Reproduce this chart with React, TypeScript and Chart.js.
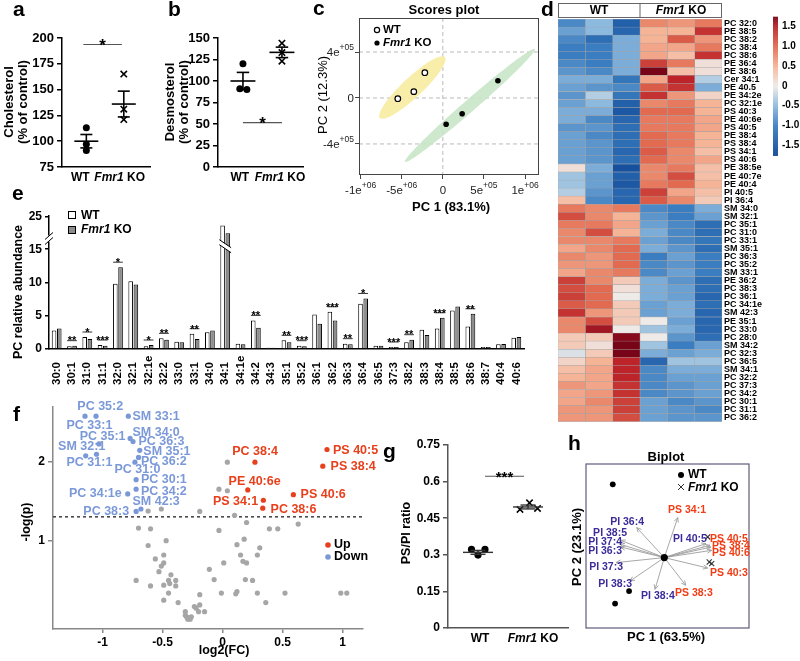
import React, { useEffect, useRef } from 'react';
import { Chart, registerables } from 'chart.js';
Chart.register(...registerables);

const W = 800;
const H = 661;
const FF = "'Liberation Sans', Arial, Helvetica, sans-serif";
Chart.defaults.font.family = FF;
const font = (size: number, bold = true, italic = false) => `${italic ? 'italic ' : ''}${bold ? 'bold ' : ''}${size}px ${FF}`;
const tf = (size: number, bold = true) => ({ family: FF, size, weight: bold ? 'bold' : 'normal' });

// ===================== DATA =====================
// panel a
const groups = ['WT', 'Fmr1 KO'];
const aTicks = [75, 100, 125, 150, 175, 200];
const aWT = [113, 97, 91];
const aKO = [165, 131, 121];
const aMean = [100, 136];
const aSem = [6.5, 12.5];
// panel b
const bTicks = [0, 25, 50, 75, 100, 125, 150];
const bWT = [120, 91, 90];
const bWTJit = [0, -0.08, 0.1];
const bKO = [144, 133, 123];
const bMean = [100, 133.3];
const bSem = [10, 6.1];
// panel c
const cXTicks = [-1e6, -5e5, 0, 5e5, 1e6];
const cXTickLabels = [['-1e', '+06'], ['-5e', '+06'], ['0', ''], ['5e', '+05'], ['1e', '+06']];
const cYTicks = [-4e5, 0, 4e5];
const cYTickLabels = [['-4e', '+05'], ['0', ''], ['4e', '+05']];
const cWTx = [-5.48e5, -3.53e5, -2.19e5];
const cWTy = [-6e3, 5.5e4, 2.2e5];
const cKOx = [4e4, 2.35e5, 6.7e5];
const cKOy = [-2.29e5, -1.37e5, 1.5e5];
const cEllCenter = [[-3.71e5, 9.1e4], [3.29e5, -6.5e4]];
const cEllMajor = [[3.95e5, 2.65e5], [7.9e5, 4.91e5]];
const cEllMinor = [[8.3e4, -6.3e4], [4.8e4, -3.95e4]];
const cEllColor = ['rgba(247,236,160,0.9)', 'rgba(200,230,200,0.9)'];
// panel d
const heatCols = ['WT', 'WT', 'WT', 'Fmr1 KO', 'Fmr1 KO', 'Fmr1 KO'];
const heatRows = ['PC 32:0', 'PE 38:5', 'PC 38:2', 'PC 38:4', 'PC 38:6', 'PE 36:4', 'PE 38:6', 'Cer 34:1', 'PE 40.5', 'PE 34:2e', 'PC 32:1e', 'PS 40:3', 'PE 40:6e', 'PS 40:5', 'PE 38:4', 'PS 38:4', 'PS 34:1', 'PS 40:6', 'PE 38:5e', 'PE 40:7e', 'PE 40:4', 'PI 40:5', 'PI 36:4', 'SM 34:0', 'SM 32:1', 'PC 35:1', 'PC 31:0', 'PC 33:1', 'SM 35:1', 'PC 36:3', 'PC 35:2', 'SM 33:1', 'PE 36:2', 'PC 38:3', 'PC 36:1', 'PC 34:1e', 'SM 42:3', 'PE 35:1', 'PC 33:0', 'PC 28:0', 'SM 34:2', 'PC 32:3', 'PC 36:5', 'SM 34:1', 'PC 32:2', 'PC 37:3', 'PC 34:2', 'PC 30:1', 'PC 31:1', 'PC 36:2'];
const heatVals = [
  [-0.9, -0.5, -1.4, 0.8, 0.7, 0.9],
  [-0.7, -0.5, -1.3, 0.5, 0.5, 1.4],
  [-0.9, -1.2, -0.6, 0.5, 1.1, 0.7],
  [-1.0, -1.0, -0.6, 0.6, 0.6, 0.9],
  [-1.0, -1.0, -0.6, 0.6, 0.4, 1.4],
  [-0.9, -1.0, -0.6, 1.3, 0.9, 0.1],
  [-0.8, -0.9, -0.6, 1.8, 0.4, 0.1],
  [-0.6, -0.6, -1.1, 0.6, 1.5, -0.3],
  [-0.7, -0.8, -0.9, 1.1, 1.4, -0.6],
  [-0.8, -0.3, -1.1, 1.4, 0.7, 0.2],
  [-0.7, -0.5, -1.4, 0.8, 0.9, 0.5],
  [-0.6, -0.6, -1.5, 1.0, 1.0, 0.5],
  [-0.6, -0.9, -1.3, 0.9, 0.9, 0.6],
  [-0.8, -0.8, -1.2, 0.9, 0.9, 0.6],
  [-0.7, -0.9, -1.2, 1.0, 0.9, 0.5],
  [-0.7, -0.8, -1.2, 1.0, 0.9, 0.5],
  [-0.7, -0.8, -1.3, 1.1, 0.8, 0.4],
  [-0.7, -0.8, -1.2, 1.0, 0.8, 0.6],
  [0.1, -0.6, -1.6, 0.8, 0.9, 0.4],
  [-0.4, -0.7, -1.4, 0.8, 1.2, 0.4],
  [-0.4, -0.7, -1.5, 0.9, 1.0, 0.5],
  [-0.3, -0.8, -1.3, 1.3, 0.6, 0.4],
  [0.4, -0.9, -1.3, 1.1, 0.8, 0.3],
  [0.9, 0.8, 0.9, -0.9, -1.0, -0.6],
  [1.2, 0.8, 0.5, -0.8, -1.0, -0.7],
  [0.9, 0.9, 0.6, -0.7, -0.9, -1.2],
  [0.8, 1.2, 0.5, -0.6, -0.9, -1.2],
  [0.8, 0.8, 0.9, -0.7, -0.9, -1.1],
  [0.6, 0.8, 1.0, -0.6, -0.8, -1.2],
  [0.8, 0.7, 1.0, -1.0, -0.7, -1.0],
  [0.7, 0.7, 1.0, -0.9, -0.8, -1.0],
  [0.6, 0.8, 0.9, -0.9, -0.7, -1.0],
  [1.3, 0.8, 0.3, -0.6, -0.8, -1.2],
  [1.2, 1.0, 0.1, -0.6, -0.7, -1.2],
  [1.3, 1.0, 0.0, -0.6, -0.7, -1.3],
  [1.1, 1.0, 0.3, -0.7, -0.6, -1.2],
  [1.4, 0.7, 0.3, -0.7, -0.6, -1.3],
  [0.8, 1.2, 0.3, 0.0, -0.7, -1.3],
  [0.8, 1.6, 0.0, -0.4, -0.6, -1.3],
  [0.3, 0.3, 1.7, 0.0, -0.8, -1.2],
  [0.3, 0.1, 1.8, -0.4, -1.0, -0.7],
  [-0.1, 0.3, 1.9, -0.6, -0.7, -0.6],
  [0.2, 0.5, 1.5, -1.3, -0.4, -0.4],
  [0.4, 0.6, 1.5, -0.9, -0.6, -0.6],
  [0.5, 0.6, 1.5, -0.9, -0.7, -0.7],
  [0.7, 0.6, 1.4, -0.9, -0.8, -0.7],
  [0.6, 0.7, 1.4, -0.9, -0.8, -0.7],
  [0.6, 0.8, 1.3, -0.7, -0.9, -0.8],
  [0.7, 0.7, 1.3, -0.7, -0.8, -0.9],
  [0.7, 0.7, 1.2, -0.7, -0.8, -0.8],
];
const heatLegendTicks = [1.5, 1.0, 0.5, 0, -0.5, -1.0, -1.5];
const heatRange = [-1.75, 1.75];
const heatStops = [-1.75, -1.0, -0.5, 0, 0.5, 1.0, 1.5, 1.75];
const heatStopColors = [[14, 70, 150], [58, 125, 192], [140, 185, 222], [238, 234, 232], [246, 180, 150], [226, 106, 80], [188, 36, 42], [120, 4, 24]];
// panel e
const eCats = ['30:0', '30:1', '31:0', '31:1', '32:0', '32:1', '32:1e', '32:2', '33:0', '33:1', '34:0', '34:1', '34:1e', '34:2', '34:3', '35:1', '35:2', '36:1', '36:2', '36:3', '36:4', '36:5', '37:3', '38:2', '38:3', '38:4', '38:5', '38:6', '38:7', '40:4', '40:6'];
const eWT = [2.8, 0.4, 1.8, 0.6, 9.8, 10.2, 0.4, 1.6, 1.1, 2.3, 2.5, 22.3, 0.8, 4.3, 0.2, 1.3, 0.5, 5.2, 5.6, 0.8, 6.8, 0.5, 0.3, 1.0, 2.9, 3.1, 5.8, 3.4, 0.3, 0.7, 1.7];
const eKO = [3.1, 0.5, 1.5, 0.5, 12.3, 9.7, 0.6, 1.4, 1.0, 1.5, 2.8, 19.9, 0.7, 3.2, 0.2, 1.0, 0.4, 3.8, 4.3, 0.7, 7.6, 0.5, 0.3, 1.4, 2.1, 4.7, 6.4, 5.3, 0.3, 0.75, 1.8];
const eSig = ['', '**', '*', '***', '*', '', '*', '**', '', '**', '', '', '', '**', '', '**', '***', '', '***', '**', '*', '', '***', '**', '', '***', '', '**', '', '', ''];
const eYTicks = [0, 5, 10, 15, 25];
const eBreakFrom = 15;
const eCompress = 0.49;
const eYMax = 25.2;
const eAxisBreak = 18.3;
const eBarBreak = 16.4;
const eBrokenCat = '34:1';
// panel f
const fXTicks = [-1, -0.5, 0, 0.5, 1];
const fYTicks = [1, 2];
const fThreshold = 1.301;
const fGreyX = [0.04, -0.03, 0.04, -0.62, -0.51, -0.19, 0.10, -0.70, -0.60, -0.03, 0.20, 0.39, 0.46, 0.63, -0.47, -0.62, 0.18, 0.12, 0.31, -0.49, -0.56, 0.15, 0.29, -0.49, -0.51, 0.17, 0.20, 0.01, -0.11, -0.53, -0.43, -0.72, -0.45, -0.39, -0.07, 0.19, 0.25, -0.60, -0.49, -0.44, -0.39, -0.45, -0.19, -0.01, 0.12, 0.11, 0.29, 0.52, 0.985, 1.035, -0.49, -0.37, 0.36, -0.235, -0.19, -0.20, -0.15, -0.31, -0.30, -0.29, -0.27, -0.31, -0.28, -0.26, -0.22];
const fGreyY = [1.99, 1.65, 1.63, 1.375, 1.40, 1.37, 1.32, 1.16, 1.15, 1.13, 1.23, 1.15, 1.15, 1.21, 1.0, 0.94, 1.02, 0.95, 0.91, 0.82, 0.77, 0.82, 0.82, 0.72, 0.68, 0.74, 0.72, 0.72, 0.64, 0.61, 0.57, 0.50, 0.50, 0.50, 0.51, 0.51, 0.50, 0.43, 0.44, 0.46, 0.43, 0.34, 0.32, 0.34, 0.36, 0.33, 0.34, 0.34, 0.34, 0.34, 0.25, 0.22, 0.22, 0.17, 0.19, 0.105, 0.105, 0.105, 0.04, 0.01, 0.01, 0.06, 0.03, 0.04, 0.15];
const fUpNames = ['PS 40:5', 'PS 38:4', 'PC 38:4', 'PE 40:6e', 'PS 40:6', 'PS 34:1', 'PC 38:6'];
const fUpX = [0.87, 0.835, 0.27, 0.21, 0.59, 0.34, 0.335];
const fUpY = [2.15, 1.94, 1.99, 1.64, 1.58, 1.51, 1.41];
const fUpLabX = [0.92, 0.90, 0.08, 0.05, 0.65, -0.08, 0.40];
const fUpLabY = [2.14, 1.93, 2.12, 1.74, 1.58, 1.50, 1.39];
const fDownNames = ['PC 35:2', 'PC 33:1', 'SM 33:1', 'SM 34:0', 'PC 36:3', 'PC 35:1', 'SM 32:1', 'PC 31:1', 'SM 35:1', 'PC 36:2', 'PC 31:0', 'PC 30:1', 'PC 34:2', 'PC 34:1e', 'SM 42:3', 'PC 38:3'];
const fDownX = [-1.146, -1.054, -0.785, -0.77, -0.746, -1.03, -1.14, -1.05, -0.69, -0.70, -0.73, -0.72, -0.72, -0.79, -0.68, -0.72];
const fDownY = [2.57, 2.57, 2.57, 2.29, 2.25, 2.22, 2.07, 2.09, 2.14, 2.05, 1.99, 1.77, 1.65, 1.59, 1.40, 1.37];
const fDownLabX = [-1.21, -1.30, -0.75, -0.75, -0.70, -1.19, -1.37, -1.30, -0.66, -0.68, -0.90, -0.68, -0.68, -1.28, -0.75, -1.16];
const fDownLabY = [2.69, 2.45, 2.57, 2.37, 2.25, 2.31, 2.19, 1.98, 2.12, 2.0, 1.90, 1.77, 1.62, 1.60, 1.49, 1.37];
// panel g
const gTicks = [0, 0.15, 0.3, 0.45, 0.6, 0.75];
const gWT = [0.322, 0.322, 0.299];
const gWTJit = [-0.13, 0.14, 0];
const gKO = [0.486, 0.513, 0.49];
const gKOJit = [-0.16, 0.03, 0.19];
const gMean = [0.31, 0.496];
const gSem = [0.008, 0.008];
// panel h
const hWTx = [-0.645, -0.441, -0.616];
const hWTy = [0.916, -0.418, -0.575];
const hKOx = [0.543, 0.5625, 0.593];
const hKOy = [0.258, -0.055, -0.075];
const hVarNames = ['PS 34:1', 'PI 36:4', 'PI 38:5', 'PI 37:4', 'PI 36:3', 'PI 37:3', 'PI 38:3', 'PI 38:4', 'PS 38:3', 'PS 40:3', 'PI 40:5', 'PS 40:5', 'PS 38:4', 'PS 40:6'];
const hLoadX = [0.168, -0.345, -0.545, -0.554, -0.545, -0.604, -0.429, -0.116, 0.2675, 0.5425, 0.521, 0.571, 0.584, 0.5925];
const hLoadY = [0.5, 0.375, 0.216, 0.166, 0.1325, -0.0625, -0.2925, -0.396, -0.346, -0.13, 0.175, 0.154, 0.1325, 0.091];
const hLabX = [0.284, -0.466, -0.679, -0.741, -0.741, -0.729, -0.616, -0.079, 0.371, 0.809, 0.321, 0.809, 0.834, 0.834];
const hLabY = [0.591, 0.445, 0.3075, 0.195, 0.0825, -0.1175, -0.334, -0.48, -0.45, -0.1925, 0.2325, 0.229, 0.141, 0.05];

// ===================== HELPERS =====================
const fitW = (w: number) => (s: any) => { s.width = w; s.paddingLeft = 0; s.paddingRight = 0; s.paddingTop = 0; s.paddingBottom = 0; };
const fitH = (h: number) => (s: any) => { s.height = h; s.paddingLeft = 0; s.paddingRight = 0; s.paddingTop = 0; s.paddingBottom = 0; };

function base(area: any, yw: number, xh: number, yRight = false) {
  return {
    responsive: false,
    animation: false,
    events: [],
    layout: {
      autoPadding: false,
      padding: {
        left: yRight ? area.l : area.l - yw,
        right: yRight ? W - area.r - yw : W - area.r,
        top: area.t,
        bottom: H - area.b - xh,
      },
    },
    plugins: { legend: { display: false }, tooltip: { enabled: false } },
  };
}

const yAxis = (min: number, max: number, ticks: number[], yw: number, size = 13, color = '#000', fmt?: any) => ({
  type: 'linear', min, max,
  afterBuildTicks: (s: any) => { s.ticks = ticks.map((v) => ({ value: v })); },
  ticks: { font: tf(size), color: '#000', padding: 3, callback: fmt || ((v: any) => String(v)) },
  grid: { drawOnChartArea: false, drawTicks: true, tickLength: 5, color, lineWidth: 1.5 },
  border: { color, width: 1.5 },
  afterFit: fitW(yw),
});
const xHidden = (min: number, max: number, color = '#000', lw = 1.5) => ({
  type: 'linear', min, max,
  ticks: { display: false }, grid: { display: false },
  border: { color, width: lw },
  afterFit: fitH(0),
});

function text(ctx: any, s: string, x: number, y: number, fnt: string, o: any = {}) {
  ctx.save();
  ctx.translate(x, y);
  if (o.rot) ctx.rotate(o.rot);
  ctx.font = fnt;
  ctx.fillStyle = o.color || '#000';
  ctx.textAlign = o.align || 'center';
  ctx.textBaseline = o.base || 'middle';
  ctx.fillText(s, 0, 0);
  ctx.restore();
}
const KO_SEGS = [{ t: 'Fmr1', i: true }, { t: ' KO' }];
const segsFor = (g: string) => (g === 'WT' ? [{ t: 'WT' }] : KO_SEGS);
function rich(ctx: any, segs: any[], x: number, y: number, size: number, o: any = {}) {
  ctx.save();
  ctx.translate(x, y);
  if (o.rot) ctx.rotate(o.rot);
  const bold = o.bold !== false;
  const ws = segs.map((sg) => { ctx.font = font(size, bold, !!sg.i); return ctx.measureText(sg.t).width; });
  const tot = ws.reduce((a: number, b: number) => a + b, 0);
  let cx = o.align === 'left' ? 0 : o.align === 'right' ? -tot : -tot / 2;
  ctx.textAlign = 'left';
  ctx.textBaseline = o.base || 'middle';
  ctx.fillStyle = o.color || '#000';
  segs.forEach((sg, k) => { ctx.font = font(size, bold, !!sg.i); ctx.fillText(sg.t, cx, 0); cx += ws[k]; });
  ctx.restore();
}
const letter = (ctx: any, s: string, x: number, y: number) => text(ctx, s, x, y, font(21), { align: 'left', base: 'alphabetic' });

function seg(ctx: any, x1: number, y1: number, x2: number, y2: number) {
  ctx.beginPath(); ctx.moveTo(x1, y1); ctx.lineTo(x2, y2); ctx.stroke();
}

function meanSem(c: any, means: number[], sems: number[], half: number, cap: number, lw = 1.6, color = '#000') {
  const { ctx } = c; const x = c.scales.x; const y = c.scales.y;
  ctx.save(); ctx.strokeStyle = color; ctx.lineWidth = lw;
  means.forEach((m, i) => {
    const px = x.getPixelForValue(i);
    const pm = y.getPixelForValue(m);
    const pt = y.getPixelForValue(m + sems[i]);
    const pb = y.getPixelForValue(m - sems[i]);
    const hw = x.getPixelForValue(i + half) - px;
    const cw = x.getPixelForValue(i + cap) - px;
    seg(ctx, px - hw, pm, px + hw, pm);
    seg(ctx, px, pt, px, pb);
    seg(ctx, px - cw, pt, px + cw, pt);
    seg(ctx, px - cw, pb, px + cw, pb);
  });
  ctx.restore();
}
function sigBar(c: any, x0: number, x1: number, yv: number, label: string, size: number, lineColor = '#555') {
  const { ctx } = c; const x = c.scales.x; const y = c.scales.y;
  const p0 = x.getPixelForValue(x0), p1 = x.getPixelForValue(x1), py = y.getPixelForValue(yv);
  ctx.save(); ctx.strokeStyle = lineColor; ctx.lineWidth = 1.2; seg(ctx, p0, py, p1, py); ctx.restore();
  text(ctx, label, (p0 + p1) / 2, py + size * 0.36, font(size), { base: 'alphabetic' });
}
function groupLabels(c: any, xs: number[], py: number, size = 12) {
  const x = c.scales.x;
  groups.forEach((g, i) => rich(c.ctx, segsFor(g), x.getPixelForValue(xs[i]), py, size));
}

function heatColor(v: number) {
  const t = Math.max(heatRange[0], Math.min(heatRange[1], v));
  let k = 0;
  while (k < heatStops.length - 2 && t > heatStops[k + 1]) k++;
  const f = (t - heatStops[k]) / (heatStops[k + 1] - heatStops[k]);
  const a = heatStopColors[k], b = heatStopColors[k + 1];
  const c = a.map((av, j) => Math.round(av + (b[j] - av) * f));
  return `rgb(${c[0]},${c[1]},${c[2]})`;
}
const eDisp = (v: number) => (v <= eBreakFrom ? v : eBreakFrom + (v - eBreakFrom) * eCompress);

// ===================== PANELS =====================
function makeA() {
  const area = { l: 62, r: 150, t: 38, b: 167 };
  return {
    type: 'scatter',
    data: { datasets: [
      { data: aWT.map((v) => ({ x: 0, y: v })), pointStyle: 'circle', pointRadius: 3.5, backgroundColor: '#000', borderColor: '#000', borderWidth: 0 },
      { data: aKO.map((v) => ({ x: 1, y: v })), pointStyle: 'crossRot', pointRadius: 4.5, borderColor: '#000', borderWidth: 1.6 },
    ] },
    options: { ...base(area, 45, 0), scales: { x: xHidden(-0.65, 1.7), y: yAxis(75, 200, aTicks, 45, 13) } },
    plugins: [{ id: 'pa', afterDraw(c: any) {
      const ctx = c.ctx;
      meanSem(c, aMean, aSem, 0.32, 0.16);
      sigBar(c, -0.08, 0.95, 193.7, '*', 17);
      groupLabels(c, [-0.16, 0.89], 178);
      text(ctx, 'Cholesterol', 9.5, 102, font(13), { rot: -Math.PI / 2 });
      text(ctx, '(% of control)', 23, 102, font(13), { rot: -Math.PI / 2 });
      letter(ctx, 'a', 13, 16);
    } }],
  };
}

function makeB() {
  const area = { l: 218, r: 303, t: 38, b: 167 };
  return {
    type: 'scatter',
    data: { datasets: [
      { data: bWT.map((v, i) => ({ x: bWTJit[i], y: v })), pointStyle: 'circle', pointRadius: 3.5, backgroundColor: '#000', borderColor: '#000', borderWidth: 0 },
      { data: bKO.map((v) => ({ x: 1, y: v })), pointStyle: 'crossRot', pointRadius: 4.5, borderColor: '#000', borderWidth: 1.6 },
    ] },
    options: { ...base(area, 45, 0), scales: { x: xHidden(-0.64, 1.54), y: yAxis(0, 150, bTicks, 45, 13) } },
    plugins: [{ id: 'pb', afterDraw(c: any) {
      const ctx = c.ctx;
      meanSem(c, bMean, bSem, 0.32, 0.16);
      sigBar(c, 0, 1, 51.5, '*', 17);
      groupLabels(c, [-0.08, 0.95], 178);
      text(ctx, 'Desmosterol', 170, 102, font(13), { rot: -Math.PI / 2 });
      text(ctx, '(% of control)', 184, 102, font(13), { rot: -Math.PI / 2 });
      letter(ctx, 'b', 168, 16);
    } }],
  };
}

function supLabel(ctx: any, b: string, s: string, x: number, y: number, align: string) {
  const size = 11.5;
  ctx.save();
  ctx.font = font(size, false); const wb = ctx.measureText(b).width;
  ctx.font = font(8.5, false); const ws = ctx.measureText(s).width;
  const tot = wb + ws;
  const sx = align === 'center' ? x - tot / 2 : align === 'right' ? x - tot : x;
  ctx.textAlign = 'left'; ctx.textBaseline = 'middle'; ctx.fillStyle = '#222';
  ctx.font = font(size, false); ctx.fillText(b, sx, y);
  ctx.font = font(8.5, false); ctx.fillText(s, sx + wb, y - 5);
  ctx.restore();
}

function makeC() {
  const area = { l: 359, r: 539, t: 18, b: 175 };
  const axis = (min: number, max: number, ticks: number[], horiz: boolean) => ({
    type: 'linear', min, max,
    afterBuildTicks: (s: any) => { s.ticks = ticks.map((v) => ({ value: v })); },
    ticks: { callback: () => '', font: tf(8) },
    grid: { drawOnChartArea: false, tickLength: 4, color: '#444', lineWidth: 1 },
    border: { display: false },
    afterFit: horiz ? fitH(0) : fitW(0),
  });
  return {
    type: 'scatter',
    data: { datasets: [
      { data: cWTx.map((v, i) => ({ x: v, y: cWTy[i] })), pointStyle: 'circle', pointRadius: 2.8, backgroundColor: '#fff', borderColor: '#000', borderWidth: 1.2 },
      { data: cKOx.map((v, i) => ({ x: v, y: cKOy[i] })), pointStyle: 'circle', pointRadius: 2.8, backgroundColor: '#000', borderColor: '#000', borderWidth: 0 },
    ] },
    options: { ...base(area, 0, 0), scales: { x: axis(-1.02e6, 1.17e6, cXTicks, true), y: axis(-6.7e5, 6.96e5, cYTicks, false) } },
    plugins: [{ id: 'pc',
      beforeDatasetsDraw(c: any) {
        const { ctx, chartArea: a } = c; const x = c.scales.x; const y = c.scales.y;
        ctx.save();
        ctx.beginPath(); ctx.rect(a.left, a.top, a.right - a.left, a.bottom - a.top); ctx.clip();
        ctx.strokeStyle = '#a8a8a8'; ctx.lineWidth = 0.8; ctx.setLineDash([4, 3]);
        cYTicks.forEach((v) => { const py = y.getPixelForValue(v); seg(ctx, a.left, py, a.right, py); });
        const px0 = x.getPixelForValue(0); seg(ctx, px0, a.top, px0, a.bottom);
        ctx.setLineDash([]);
        cEllCenter.forEach((cc, k) => {
          ctx.beginPath();
          for (let i = 0; i <= 90; i++) {
            const t = (i / 90) * Math.PI * 2;
            const dx = cc[0] + cEllMajor[k][0] * Math.cos(t) + cEllMinor[k][0] * Math.sin(t);
            const dy = cc[1] + cEllMajor[k][1] * Math.cos(t) + cEllMinor[k][1] * Math.sin(t);
            const px = x.getPixelForValue(dx), py = y.getPixelForValue(dy);
            if (i) ctx.lineTo(px, py); else ctx.moveTo(px, py);
          }
          ctx.closePath(); ctx.fillStyle = cEllColor[k]; ctx.fill();
        });
        ctx.restore();
      },
      afterDraw(c: any) {
        const { ctx, chartArea: a } = c; const x = c.scales.x; const y = c.scales.y;
        ctx.save(); ctx.strokeStyle = '#444'; ctx.lineWidth = 1;
        ctx.strokeRect(a.left + 0.5, a.top + 0.5, a.right - a.left - 1, a.bottom - a.top - 1);
        ctx.restore();
        cXTicks.forEach((v, i) => supLabel(ctx, cXTickLabels[i][0], cXTickLabels[i][1], x.getPixelForValue(v), a.bottom + 16, 'center'));
        cYTicks.forEach((v, i) => supLabel(ctx, cYTickLabels[i][0], cYTickLabels[i][1], a.left - 5, y.getPixelForValue(v) + 1, 'right'));
        text(ctx, 'PC 1 (83.1%)', 451, 207, font(13));
        text(ctx, 'PC 2 (12.3%)', 323, 95, font(13, false), { rot: -Math.PI / 2 });
        text(ctx, 'Scores plot', 444, 10, font(13));
        // legend
        ctx.save();
        ctx.lineWidth = 1.2; ctx.strokeStyle = '#000'; ctx.fillStyle = '#fff';
        ctx.beginPath(); ctx.arc(377, 30, 2.6, 0, Math.PI * 2); ctx.fill(); ctx.stroke();
        ctx.fillStyle = '#000';
        ctx.beginPath(); ctx.arc(377, 43, 2.6, 0, Math.PI * 2); ctx.fill();
        ctx.restore();
        rich(ctx, [{ t: 'WT' }], 383, 30, 11.5, { align: 'left' });
        rich(ctx, KO_SEGS, 383, 43, 11.5, { align: 'left' });
        letter(ctx, 'c', 313, 15);
      } }],
  };
}

function makeD() {
  const area = { l: 558, r: 722, t: 19, b: 421.7 };
  return {
    type: 'bar',
    data: {
      labels: heatRows,
      datasets: heatCols.map((col, ci) => ({
        label: col,
        data: heatRows.map(() => [ci, ci + 1]),
        backgroundColor: heatVals.map((r) => heatColor(r[ci])),
        borderColor: '#a4a4a4', borderWidth: 0.5, borderSkipped: false,
        barPercentage: 1, categoryPercentage: 1, grouped: false,
      })),
    },
    options: {
      ...base(area, 70, 0, true),
      indexAxis: 'y',
      scales: {
        x: { type: 'linear', display: false, min: 0, max: heatCols.length },
        y: {
          position: 'right',
          ticks: { font: tf(9), color: '#000', padding: 2, autoSkip: false },
          grid: { display: false, drawTicks: false },
          border: { display: false },
          afterFit: fitW(70),
        },
      },
    },
    plugins: [{ id: 'pd', afterDraw(c: any) {
      const { ctx, chartArea: a } = c;
      const mid = (a.left + a.right) / 2;
      ctx.save(); ctx.strokeStyle = '#666'; ctx.lineWidth = 1;
      ctx.strokeRect(a.left + 0.5, 3.5, a.right - a.left - 1, 14);
      seg(ctx, mid, 3.5, mid, 17.5);
      ctx.restore();
      rich(ctx, segsFor(heatCols[0]), (a.left + mid) / 2, 11, 12);
      rich(ctx, segsFor(heatCols[5]), (mid + a.right) / 2, 11, 12);
      // color bar
      const cbTop = 16.7, cbBot = 155, cbL = 773, cbW = 5;
      const valToY = (v: number) => cbTop + ((heatRange[1] - v) / (heatRange[1] - heatRange[0])) * (cbBot - cbTop);
      for (let py = cbTop; py < cbBot; py += 1) {
        const v = heatRange[1] - ((py - cbTop) / (cbBot - cbTop)) * (heatRange[1] - heatRange[0]);
        ctx.fillStyle = heatColor(v);
        ctx.fillRect(cbL, py, cbW, 1.2);
      }
      heatLegendTicks.forEach((v) => text(ctx, v === 0 ? '0' : v.toFixed(1), 782, valToY(v), font(10), { align: 'left' }));
      letter(ctx, 'd', 541, 16);
    } }],
  };
}

function makeE() {
  const area = { l: 49, r: 524, t: 216, b: 349 };
  return {
    type: 'bar',
    data: {
      labels: eCats,
      datasets: [
        { label: 'WT', data: eWT.map(eDisp), backgroundColor: '#fff', borderColor: '#000', borderWidth: 1, categoryPercentage: 0.68, barPercentage: 0.88 },
        { label: 'Fmr1 KO', data: eKO.map(eDisp), backgroundColor: '#8d8d8d', borderColor: '#000', borderWidth: 1, categoryPercentage: 0.68, barPercentage: 0.88 },
      ],
    },
    options: {
      ...base(area, 40, 0),
      scales: {
        x: { type: 'category', ticks: { display: false }, grid: { display: false }, border: { color: '#000', width: 1.5 }, afterFit: fitH(0) },
        y: {
          type: 'linear', min: 0, max: eDisp(eYMax),
          afterBuildTicks: (s: any) => { s.ticks = eYTicks.map((v) => ({ value: eDisp(v) })); },
          ticks: { font: tf(12), color: '#000', padding: 3, callback: (_v: any, i: number) => String(eYTicks[i]) },
          grid: { drawOnChartArea: false, tickLength: 4, color: '#000', lineWidth: 1.5 },
          border: { color: '#000', width: 1.5 },
          afterFit: fitW(40),
        },
      },
    },
    plugins: [{ id: 'pe', afterDraw(c: any) {
      const { ctx, chartArea: a } = c; const x = c.scales.x; const y = c.scales.y;
      eCats.forEach((lab, i) => text(ctx, lab, x.getPixelForValue(i), 385, font(11.5), { rot: -Math.PI / 2, align: 'left' }));
      const m0 = c.getDatasetMeta(0).data, m1 = c.getDatasetMeta(1).data;
      ctx.save(); ctx.strokeStyle = '#000'; ctx.lineWidth = 0.8;
      eSig.forEach((s, i) => {
        if (!s) return;
        const b0 = m0[i], b1 = m1[i];
        const top = Math.min(b0.y, b1.y);
        const ly = top - 5;
        const l = b0.x - b0.width / 2, r = b1.x + b1.width / 2;
        seg(ctx, l, ly, r, ly);
        text(ctx, s, (l + r) / 2, ly + 3.8, font(11), { base: 'alphabetic' });
      });
      ctx.restore();
      // axis break
      const ab = y.getPixelForValue(eDisp(eAxisBreak));
      ctx.save();
      ctx.fillStyle = '#fff'; ctx.fillRect(a.left - 3, ab - 3, 6, 6);
      ctx.strokeStyle = '#000'; ctx.lineWidth = 1;
      seg(ctx, a.left - 4, ab + 1, a.left + 4, ab - 6);
      seg(ctx, a.left - 4, ab + 6, a.left + 4, ab - 1);
      // bar break
      const bi = eCats.indexOf(eBrokenCat);
      const b0 = m0[bi], b1 = m1[bi];
      const l = b0.x - b0.width / 2 - 1, r = b1.x + b1.width / 2 + 1;
      const bb = y.getPixelForValue(eDisp(eBarBreak));
      ctx.beginPath(); ctx.moveTo(l, bb - 5); ctx.lineTo(r, bb + 3); ctx.lineTo(r, bb + 8); ctx.lineTo(l, bb); ctx.closePath();
      ctx.fill();
      seg(ctx, l, bb - 5, r, bb + 3);
      seg(ctx, l, bb, r, bb + 8);
      // legend
      ctx.lineWidth = 1;
      ctx.fillStyle = '#fff'; ctx.fillRect(68.5, 211.5, 7, 7); ctx.strokeRect(68.5, 211.5, 7, 7);
      ctx.fillStyle = '#8d8d8d'; ctx.fillRect(68.5, 226.5, 7, 7); ctx.strokeRect(68.5, 226.5, 7, 7);
      ctx.restore();
      rich(ctx, [{ t: 'WT' }], 81, 215.5, 12, { align: 'left' });
      rich(ctx, KO_SEGS, 81, 230, 12, { align: 'left' });
      text(ctx, 'PC relative abundance', 18.5, 292, font(12.5), { rot: -Math.PI / 2 });
      letter(ctx, 'e', 12, 200);
    } }],
  };
}

function makeF() {
  const area = { l: 53, r: 363, t: 407, b: 629 };
  const grey = '#a6a6a6', red = '#e8401c', blue = '#7a98d8';
  return {
    type: 'scatter',
    data: { datasets: [
      { data: fGreyX.map((v, i) => ({ x: v, y: fGreyY[i] })), pointRadius: 2.6, backgroundColor: grey, borderWidth: 0 },
      { data: fUpX.map((v, i) => ({ x: v, y: fUpY[i] })), pointRadius: 2.6, backgroundColor: red, borderWidth: 0 },
      { data: fDownX.map((v, i) => ({ x: v, y: fDownY[i] })), pointRadius: 2.6, backgroundColor: blue, borderWidth: 0 },
    ] },
    options: {
      ...base(area, 40, 24),
      scales: {
        x: {
          type: 'linear', min: -1.4125, max: 1.17,
          afterBuildTicks: (s: any) => { s.ticks = fXTicks.map((v) => ({ value: v })); },
          ticks: { font: tf(12), color: '#000', padding: 2, callback: (v: any) => String(v) },
          grid: { drawOnChartArea: false, tickLength: 4, color: '#888', lineWidth: 1.5 },
          border: { color: '#888', width: 1.5 },
          afterFit: fitH(24),
        },
        y: yAxis(-0.113, 2.686, fYTicks, 40, 12, '#888'),
      },
    },
    plugins: [{ id: 'pf',
      beforeDatasetsDraw(c: any) {
        const { ctx, chartArea: a } = c; const y = c.scales.y;
        const py = y.getPixelForValue(fThreshold);
        ctx.save(); ctx.strokeStyle = '#222'; ctx.lineWidth = 1.3; ctx.setLineDash([3, 3]);
        seg(ctx, a.left, py, a.right, py); ctx.restore();
      },
      afterDraw(c: any) {
        const { ctx } = c; const x = c.scales.x; const y = c.scales.y;
        fDownNames.forEach((n, i) => text(ctx, n, x.getPixelForValue(fDownLabX[i]), y.getPixelForValue(fDownLabY[i]), font(12.5), { align: 'left', color: '#7b99d9' }));
        fUpNames.forEach((n, i) => text(ctx, n, x.getPixelForValue(fUpLabX[i]), y.getPixelForValue(fUpLabY[i]), font(12.5), { align: 'left', color: red }));
        ctx.save();
        ctx.fillStyle = red; ctx.beginPath(); ctx.arc(328, 545, 2.8, 0, Math.PI * 2); ctx.fill();
        ctx.fillStyle = blue; ctx.beginPath(); ctx.arc(328, 557, 2.8, 0, Math.PI * 2); ctx.fill();
        ctx.restore();
        text(ctx, 'Up', 334, 545, font(12.5), { align: 'left' });
        text(ctx, 'Down', 334, 557, font(12.5), { align: 'left' });
        text(ctx, 'log2(FC)', 224, 651, font(12.5));
        text(ctx, '-log(p)', 27, 522, font(12.5), { rot: -Math.PI / 2 });
        letter(ctx, 'f', 13, 421);
      } }],
  };
}

function makeG() {
  const area = { l: 448, r: 568, t: 445, b: 628 };
  return {
    type: 'scatter',
    data: { datasets: [
      { data: gWT.map((v, i) => ({ x: gWTJit[i], y: v })), pointStyle: 'circle', pointRadius: 3.6, backgroundColor: '#000', borderWidth: 0 },
      { data: gKO.map((v, i) => ({ x: 1 + gKOJit[i], y: v })), pointStyle: 'crossRot', pointRadius: 4.5, borderColor: '#000', borderWidth: 1.5 },
    ] },
    options: {
      ...base(area, 45, 0),
      scales: {
        x: xHidden(-0.6, 1.8, '#555'),
        y: yAxis(0, 0.75, gTicks, 45, 12, '#555', (v: any) => String(Math.round(v * 100) / 100)),
      },
    },
    plugins: [{ id: 'pg', afterDraw(c: any) {
      const ctx = c.ctx;
      meanSem(c, gMean, gSem, 0.3, 0.15, 1.4, '#333');
      sigBar(c, 0.14, 0.92, 0.622, '***', 15);
      groupLabels(c, [0.04, 1.1], 639);
      text(ctx, 'PS/PI ratio', 406.5, 533, font(12.5), { rot: -Math.PI / 2 });
      letter(ctx, 'g', 383, 458);
    } }],
  };
}

function makeH() {
  const area = { l: 586, r: 749, t: 464, b: 628 };
  const piCol = '#3b2c9a', psCol = '#f23c14';
  return {
    type: 'scatter',
    data: { datasets: [
      { data: hWTx.map((v, i) => ({ x: v, y: hWTy[i] })), pointStyle: 'circle', pointRadius: 2.9, backgroundColor: '#000', borderWidth: 0 },
      { data: hKOx.map((v, i) => ({ x: v, y: hKOy[i] })), pointStyle: 'crossRot', pointRadius: 3.6, borderColor: '#333', borderWidth: 1.1 },
      { data: [{ x: 0, y: 0 }], pointStyle: 'circle', pointRadius: 3.6, backgroundColor: '#000', borderWidth: 0 },
    ] },
    options: {
      ...base(area, 0, 0),
      scales: {
        x: { type: 'linear', display: false, min: -0.98, max: 1.06 },
        y: { type: 'linear', display: false, min: -0.88, max: 1.17 },
      },
    },
    plugins: [{ id: 'ph',
      beforeDatasetsDraw(c: any) {
        const { ctx } = c; const x = c.scales.x; const y = c.scales.y;
        const ox = x.getPixelForValue(0), oy = y.getPixelForValue(0);
        ctx.save(); ctx.strokeStyle = '#9d9d9d'; ctx.lineWidth = 0.9;
        hLoadX.forEach((lx, i) => {
          const ex = x.getPixelForValue(lx), ey = y.getPixelForValue(hLoadY[i]);
          seg(ctx, ox, oy, ex, ey);
          const ang = Math.atan2(ey - oy, ex - ox);
          const L = 5;
          seg(ctx, ex, ey, ex - L * Math.cos(ang - 0.45), ey - L * Math.sin(ang - 0.45));
          seg(ctx, ex, ey, ex - L * Math.cos(ang + 0.45), ey - L * Math.sin(ang + 0.45));
        });
        ctx.restore();
      },
      afterDraw(c: any) {
        const { ctx, chartArea: a } = c; const x = c.scales.x; const y = c.scales.y;
        ctx.save(); ctx.strokeStyle = '#5f5b7c'; ctx.lineWidth = 1.2;
        ctx.strokeRect(a.left, a.top, a.right - a.left, a.bottom - a.top);
        ctx.restore();
        hVarNames.forEach((n, i) => text(ctx, n, x.getPixelForValue(hLabX[i]), y.getPixelForValue(hLabY[i]), font(10.5), { color: n.startsWith('PI') ? piCol : psCol }));
        // legend
        ctx.save();
        ctx.fillStyle = '#000'; ctx.beginPath(); ctx.arc(681, 475, 3, 0, Math.PI * 2); ctx.fill();
        ctx.strokeStyle = '#333'; ctx.lineWidth = 1;
        seg(ctx, 678, 484, 684, 490); seg(ctx, 678, 490, 684, 484);
        ctx.restore();
        rich(ctx, [{ t: 'WT' }], 688, 475, 12, { align: 'left' });
        rich(ctx, KO_SEGS, 688, 487.5, 12, { align: 'left' });
        text(ctx, 'Biplot', 666, 457, font(13));
        text(ctx, 'PC 1 (63.5%)', 666, 637, font(13));
        text(ctx, 'PC 2 (23.1%)', 577, 547, font(13), { rot: -Math.PI / 2 });
        letter(ctx, 'h', 568, 450);
      } }],
  };
}

function ChartCanvas({ make }: { make: () => any }) {
  const ref = useRef<HTMLCanvasElement>(null);
  useEffect(() => {
    const chart = new Chart(ref.current as any, make());
    return () => chart.destroy();
  }, []);
  return <canvas ref={ref} width={W} height={H} style={{ position: 'absolute', left: 0, top: 0, width: W, height: H }} />;
}

const makers = [makeA, makeB, makeC, makeD, makeE, makeF, makeG, makeH];

export default function App() {
  return (
    <div style={{ position: 'fixed', left: 0, top: 0, width: W, height: H, background: '#fff', overflow: 'hidden' }}>
      {makers.map((m, i) => <ChartCanvas key={i} make={m} />)}
    </div>
  );
}
